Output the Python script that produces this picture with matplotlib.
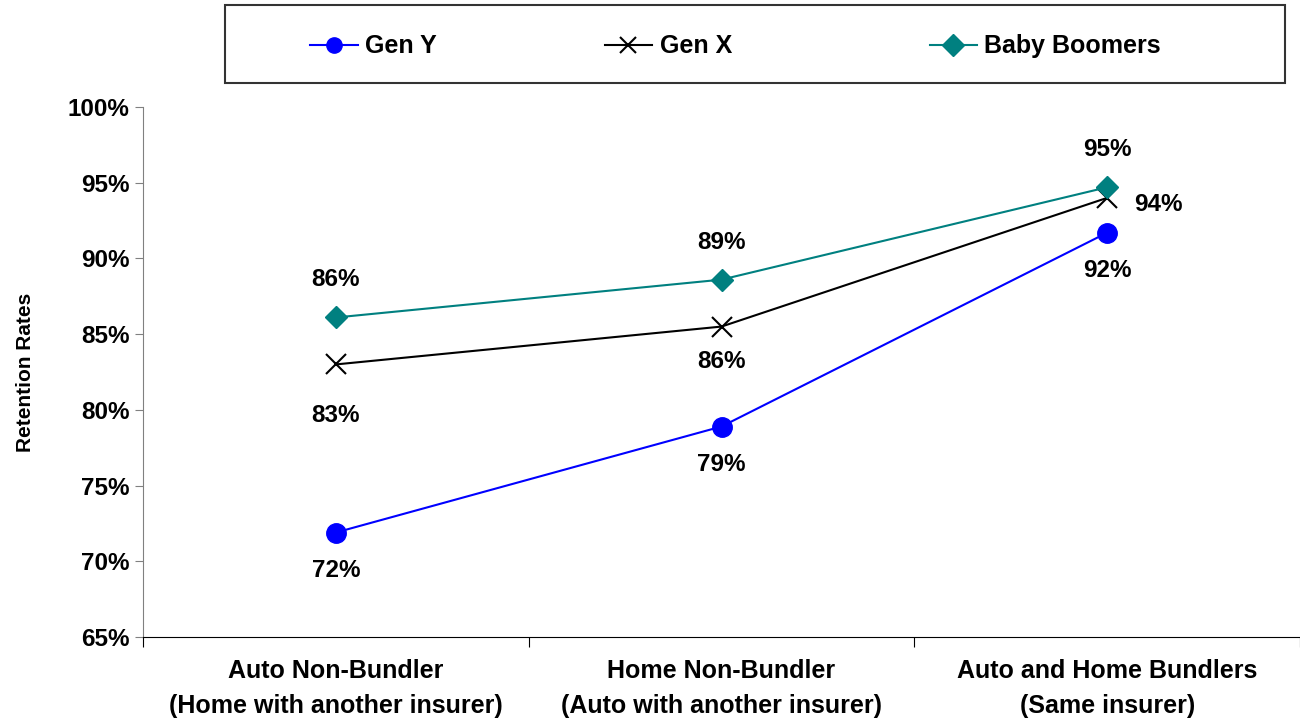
import matplotlib.pyplot as plt
from matplotlib.patches import Rectangle
from matplotlib.ticker import FuncFormatter

# categories and series (retention rates, %)
categories = ["Auto Non-Bundler\n(Home with another insurer)",
              "Home Non-Bundler\n(Auto with another insurer)",
              "Auto and Home Bundlers\n(Same insurer)"]
gen_y = [71.9, 78.9, 91.7]
gen_x = [83.0, 85.5, 94.0]
boomers = [86.1, 88.6, 94.7]
gen_y_labels = ["72%", "79%", "92%"]
gen_x_labels = ["83%", "86%", "94%"]
boomer_labels = ["86%", "89%", "95%"]
y_ticks = [65, 70, 75, 80, 85, 90, 95, 100]

plt.rcParams['font.family'] = ['Liberation Sans', 'DejaVu Sans']
plt.rcParams['font.weight'] = 'bold'

fig = plt.figure(figsize=(13, 7.25), dpi=100)
ax = fig.add_axes([0.110, 0.1214, 0.890, 0.731])

x = list(range(len(categories)))
l1, = ax.plot(x, gen_y, color='#0000FF', lw=1.5, marker='o', ms=14, label='Gen Y')
l2, = ax.plot(x, gen_x, color='black', lw=1.5, marker='x', ms=15, mew=1.5, label='Gen X')
l3, = ax.plot(x, boomers, color='#008080', lw=1.5, marker='D', ms=11, label='Baby Boomers')

fs = 17.5
for i in x:
    ax.annotate(gen_y_labels[i], (i, gen_y[i]), xytext=(0, -27), textcoords='offset points',
                ha='center', va='center', fontsize=fs, fontweight='bold')
    ax.annotate(boomer_labels[i], (i, boomers[i]), xytext=(0, 27), textcoords='offset points',
                ha='center', va='center', fontsize=fs, fontweight='bold')
for i, off in zip(x, [(0, -37), (0, -25), (37, -5)]):
    ax.annotate(gen_x_labels[i], (i, gen_x[i]), xytext=off, textcoords='offset points',
                ha='center', va='center', fontsize=fs, fontweight='bold')

ax.set_xlim(-0.5, 2.5)
ax.set_ylim(65, 100)
ax.set_yticks(y_ticks)
ax.yaxis.set_major_formatter(FuncFormatter(lambda v, p: f"{v:.0f}%"))
ax.set_xticks([-0.5, 0.5, 1.5, 2.5])
ax.set_xticklabels([])
ax.set_xticks(x, minor=True)
ax.set_xticklabels(categories, minor=True, fontsize=18, fontweight='bold', linespacing=1.55)
ax.tick_params(axis='x', which='minor', length=0, pad=16)
ax.tick_params(axis='x', which='major', length=7, direction='out', color='black')
ax.tick_params(axis='y', length=6, direction='out', labelsize=17.5, color='#808080')
ax.set_ylabel("Retention Rates", fontsize=15, fontweight='bold', labelpad=24)

ax.spines['top'].set_visible(False)
ax.spines['right'].set_visible(False)
ax.spines['left'].set_color('#808080')
ax.spines['bottom'].set_color('black')

# legend: frame box plus one entry per series
fig.add_artist(Rectangle((0.173, 0.8855), 0.8154, 0.1076, transform=fig.transFigure,
                         fill=False, edgecolor='#333333', lw=1.5))
for line, xpos in zip([l1, l2, l3], [0.2385, 0.465, 0.715]):
    leg = fig.legend([line], [line.get_label()], loc='center left', bbox_to_anchor=(xpos, 0.936),
                     frameon=False, prop={'size': 18, 'weight': 'bold'}, handlelength=1.9,
                     handletextpad=0.3, borderpad=0, borderaxespad=0)
    for h in leg.legend_handles:
        h.set_markersize(11)

fig.savefig("out.png", dpi=100)
